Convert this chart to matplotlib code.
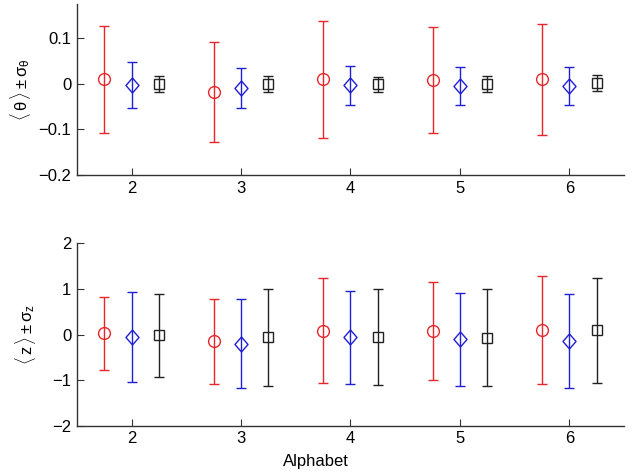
import numpy as np
import matplotlib
matplotlib.use("Agg")
import matplotlib.pyplot as plt

plt.rcParams['font.family'] = ['Liberation Sans', 'DejaVu Sans']
plt.rcParams['mathtext.fontset'] = 'custom'
plt.rcParams['mathtext.rm'] = 'Liberation Sans'
plt.rcParams['mathtext.it'] = 'Liberation Sans'
plt.rcParams['mathtext.sf'] = 'Liberation Sans'

# data
alphabet = [2, 3, 4, 5, 6]

theta_red_mean = [0.010, -0.018, 0.010, 0.009, 0.010]
theta_red_err = [0.118, 0.110, 0.128, 0.116, 0.122]
theta_blue_mean = [-0.003, -0.009, -0.003, -0.004, -0.005]
theta_blue_err = [0.050, 0.044, 0.043, 0.042, 0.041]
theta_black_mean = [0.000, 0.000, -0.001, 0.000, 0.002]
theta_black_err = [0.017, 0.017, 0.017, 0.017, 0.017]

z_red_mean = [0.025, -0.15, 0.085, 0.08, 0.09]
z_red_err = [0.80, 0.94, 1.15, 1.08, 1.185]
z_blue_mean = [-0.05, -0.20, -0.06, -0.10, -0.14]
z_blue_err = [0.985, 0.975, 1.02, 1.02, 1.04]
z_black_mean = [-0.02, -0.06, -0.055, -0.07, 0.095]
z_black_err = [0.92, 1.06, 1.055, 1.07, 1.155]

red = '#e8262a'
blue = '#1f1fd6'
black = '#222222'

# slightly tall diamond, like the matlab one
diamond = [(0, 1), (0.87, 0), (0, -1), (-0.87, 0), (0, 1)]

fig = plt.figure(figsize=(6.39, 4.76), dpi=100)
ax1 = fig.add_axes([0.1205, 0.6324, 0.856, 0.359])
ax2 = fig.add_axes([0.1205, 0.1057, 0.856, 0.383])

x = np.array(alphabet, dtype=float)

def draw(ax, series):
    for off, mean, err, col, mk, ms in series:
        ax.errorbar(x + off, mean, yerr=err, fmt='none', ecolor=col,
                    elinewidth=1.0, capsize=3.3, capthick=1.0)
        ax.plot(x + off, mean, linestyle='none', marker=mk, mfc='none',
                mec=col, ms=ms, mew=1.0)
    ax.set_xlim(1.5, 6.5)
    ax.set_xticks(alphabet)
    for s in ['top', 'right']:
        ax.spines[s].set_visible(False)
    for s in ['left', 'bottom']:
        ax.spines[s].set_color('#333333')
        ax.spines[s].set_linewidth(1.0)
    ax.tick_params(direction='in', length=5, width=0.8, labelsize=12,
                   color='#333333', pad=4)

draw(ax1, [(-0.25, theta_red_mean, theta_red_err, red, 'o', 8.5),
           (0.0, theta_blue_mean, theta_blue_err, blue, diamond, 10.8),
           (0.25, theta_black_mean, theta_black_err, black, 's', 7.2)])
ax1.set_ylim(-0.2, 0.175)
ax1.set_yticks([-0.2, -0.1, 0, 0.1])
ax1.set_yticklabels(['\u22120.2', '\u22120.1', '0', '0.1'])
ax1.set_ylabel(r'$\langle\,\theta\,\rangle \pm \sigma_\theta$', fontsize=12)
ax1.yaxis.set_label_coords(-0.08, 0.5)

draw(ax2, [(-0.25, z_red_mean, z_red_err, red, 'o', 8.5),
           (0.0, z_blue_mean, z_blue_err, blue, diamond, 10.8),
           (0.25, z_black_mean, z_black_err, black, 's', 7.2)])
ax2.set_ylim(-2, 2)
ax2.set_yticks([-2, -1, 0, 1, 2])
ax2.set_yticklabels(['\u22122', '\u22121', '0', '1', '2'])
ax2.set_ylabel(r'$\langle\,z\,\rangle \pm \sigma_z$', fontsize=12)
ax2.yaxis.set_label_coords(-0.072, 0.5)
ax2.set_xlabel('Alphabet', fontsize=12)
ax2.xaxis.set_label_coords(0.437, -0.155)

fig.savefig('out.png', dpi=100)
